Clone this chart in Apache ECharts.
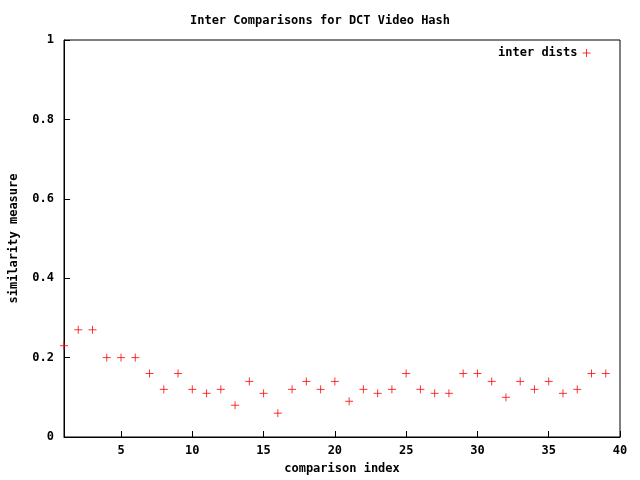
<!DOCTYPE html><html><head><meta charset="utf-8">
<script src="https://cdn.jsdelivr.net/npm/echarts@6/dist/echarts.min.js"></script>
<style>html,body{margin:0;background:#fff}#c{width:640px;height:480px}</style></head><body><div id="c"></div>
<script>
const xIndex=[1,2,3,4,5,6,7,8,9,10,11,12,13,14,15,16,17,18,19,20,21,22,23,24,25,26,27,28,29,30,31,32,33,34,35,36,37,38,39];
const interDists=[0.23,0.27,0.27,0.2,0.2,0.2,0.16,0.12,0.16,0.12,0.11,0.12,0.08,0.14,0.11,0.06,0.12,0.14,0.12,0.14,0.09,0.12,0.11,0.12,0.16,0.12,0.11,0.11,0.16,0.16,0.14,0.1,0.14,0.12,0.14,0.11,0.12,0.16,0.16];
const xTicks=[5,10,15,20,25,30,35,40];
const font='DejaVu Sans Mono';
const ch=echarts.init(document.getElementById('c'));
const plus='path://M0,5L10,5M5,0L5,10';
ch.setOption({
 animation:false,
 title:{text:'Inter Comparisons for DCT Video Hash',left:'center',top:10,textStyle:{fontFamily:font,fontWeight:'bold',fontSize:12,color:'#000'}},
 legend:{right:44,top:42,align:'right',itemWidth:8,itemHeight:8,itemGap:22,textStyle:{fontFamily:font,fontWeight:'bold',fontSize:12,color:'#000'},
  itemStyle:{color:'transparent',borderColor:'#f00',borderWidth:1},lineStyle:{color:'#f00'},
  data:[{name:'inter dists',icon:plus,itemStyle:{color:'transparent',borderColor:'#f00',borderWidth:1}}]},
 grid:{left:62,right:20,top:40,bottom:38,show:true,borderColor:'#000',borderWidth:1},
 xAxis:{type:'value',min:1,max:40,name:'comparison index',nameLocation:'middle',nameGap:26,nameTextStyle:{fontFamily:font,fontWeight:'bold',fontSize:12,color:'#000'},
  axisLine:{lineStyle:{color:'#000'}},splitLine:{show:false},
  axisTick:{inside:true,length:6,customValues:xTicks,lineStyle:{color:'#000'}},
  axisLabel:{customValues:xTicks,fontFamily:font,fontWeight:'bold',fontSize:12,color:'#000',margin:8}},
 yAxis:{type:'value',min:0,max:1,interval:0.2,name:'similarity measure',nameLocation:'middle',nameGap:44,nameTextStyle:{fontFamily:font,fontWeight:'bold',fontSize:12,color:'#000'},
  axisLine:{show:true,lineStyle:{color:'#000'}},splitLine:{show:false},
  axisTick:{show:true,inside:true,length:6,lineStyle:{color:'#000'}},
  axisLabel:{fontFamily:font,fontWeight:'bold',fontSize:12,color:'#000',margin:10,formatter:v=>String(+v.toFixed(1))}},
 series:[{name:'inter dists',type:'scatter',data:xIndex.map((x,i)=>[x,interDists[i]]),symbol:plus,symbolSize:8,
  itemStyle:{color:'transparent',borderColor:'#f00',borderWidth:1}}]
});
</script></body></html>
